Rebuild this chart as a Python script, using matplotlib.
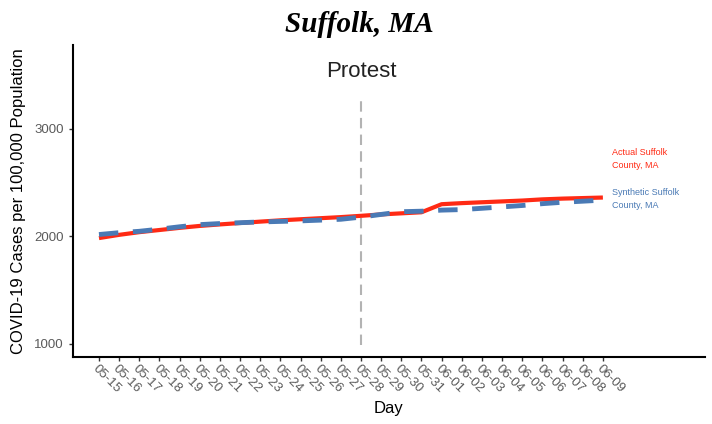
import numpy as np
import matplotlib.pyplot as plt

days = ["05-15", "05-16", "05-17", "05-18", "05-19", "05-20", "05-21", "05-22",
        "05-23", "05-24", "05-25", "05-26", "05-27", "05-28", "05-29", "05-30",
        "05-31", "06-01", "06-02", "06-03", "06-04", "06-05", "06-06", "06-07",
        "06-08", "06-09"]
actual = [1985, 2015, 2040, 2060, 2080, 2098, 2112, 2125, 2138, 2150, 2160, 2170,
          2180, 2192, 2205, 2215, 2225, 2300, 2310, 2318, 2326, 2334, 2345, 2352,
          2357, 2362]
synthetic = [2018, 2035, 2048, 2068, 2090, 2110, 2120, 2128, 2135, 2140, 2145, 2152,
             2160, 2180, 2205, 2230, 2235, 2245, 2250, 2262, 2275, 2288, 2305, 2318,
             2328, 2338]
protest_day = "05-28"

x = np.arange(len(days))
fig = plt.figure(figsize=(7.12, 4.24), dpi=100)
ax = fig.add_axes([0.1025, 0.158, 0.8875, 0.736])

# protest marker
px = days.index(protest_day)
ax.plot([px, px], [990, 3316], color="#b3b3b3", lw=1.5, dashes=(5, 3))
ax.text(px, 3530, "Protest", ha="center", va="center", fontsize=16,
        family="Liberation Sans", color="#222222")

ax.plot(x, actual, color="#ff2a14", lw=3, solid_capstyle="butt")
ax.plot(x, synthetic, color="#4a7ab5", lw=3.5, dashes=(4, 3))

ax.text(25.45, 2720, "Actual Suffolk\nCounty, MA", color="#ff2a14", fontsize=6.5,
        family="Liberation Sans", va="center", linespacing=1.6)
ax.text(25.45, 2346, "Synthetic Suffolk\nCounty, MA", color="#4a7ab5", fontsize=6.5,
        family="Liberation Sans", va="center", linespacing=1.6)

ax.set_xlim(-1.29, 30.06)
ax.set_ylim(879, 3781)
ax.set_yticks([1000, 2000, 3000])
ax.set_xticks(x)
ax.set_xticklabels(days, rotation=-45, ha="left", va="top", rotation_mode="anchor")
for lab in ax.get_xticklabels() + ax.get_yticklabels():
    lab.set_family("Liberation Sans")
    lab.set_fontsize(9.5)
    lab.set_color("#5a5a5a")
ax.tick_params(length=3, width=1, color="#333333")
ax.tick_params(axis="x", pad=1)
for s in ["top", "right"]:
    ax.spines[s].set_visible(False)
for s in ["left", "bottom"]:
    ax.spines[s].set_linewidth(1.5)

ax.set_ylabel("COVID-19 Cases per 100,000 Population", fontsize=12,
              family="Liberation Sans", labelpad=6)
ax.set_xlabel("Day", fontsize=12, family="Liberation Sans", labelpad=4)

fig.suptitle("Suffolk, MA", x=0.505, y=0.975, fontsize=21, family="Liberation Serif",
             weight="bold", style="italic")

fig.savefig("out.png", dpi=100)
